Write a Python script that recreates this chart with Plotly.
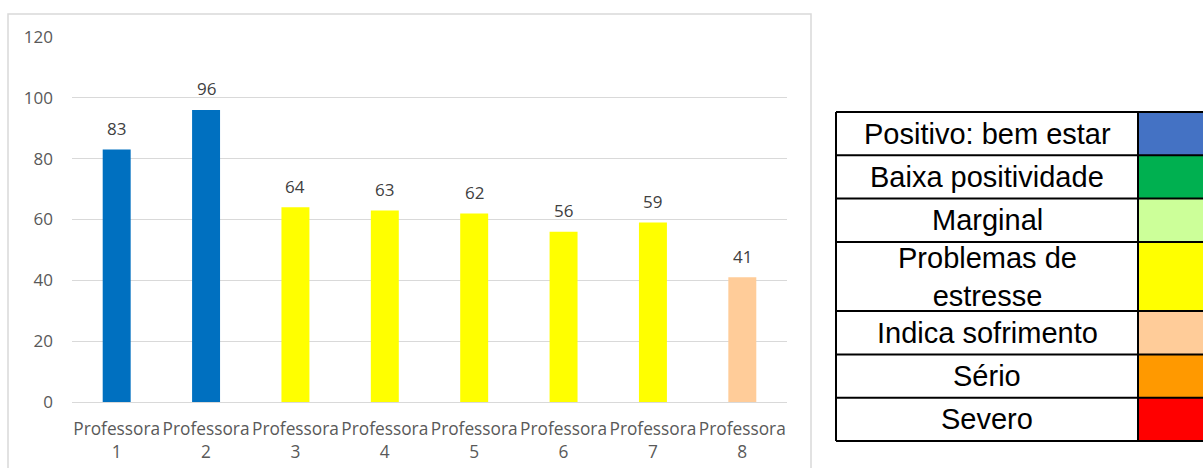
import plotly.graph_objects as go

# ---- data ----
categories = ["Professora<br>1", "Professora<br>2", "Professora<br>3", "Professora<br>4",
              "Professora<br>5", "Professora<br>6", "Professora<br>7", "Professora<br>8"]
values = [83, 96, 64, 63, 62, 56, 59, 41]
bar_colors = ["#0070C0", "#0070C0", "#FFFF00", "#FFFF00", "#FFFF00", "#FFFF00", "#FFFF00", "#FFCC99"]
y_ticks = [0, 20, 40, 60, 80, 100, 120]

legend_labels = ["Positivo: bem estar", "Baixa positividade", "Marginal",
                 "Problemas de<br>estresse", "Indica sofrimento", "Sério", "Severo"]
legend_colors = ["#4472C4", "#00B050", "#CCFF99", "#FFFF00", "#FFCC99", "#FF9900", "#FF0000"]

W, H = 1203, 468


def px(x):
    return x / W


def py(y):
    return 1 - y / H


fig = go.Figure()
fig.add_trace(go.Bar(
    x=categories, y=values, marker=dict(color=bar_colors, line=dict(width=0)),
    hoverinfo="skip", showlegend=False,
))

annotations = []
for c, v in zip(categories, values):
    annotations.append(dict(
        x=c, y=v, xref="x", yref="y", text=str(v), showarrow=False,
        yanchor="middle", yshift=21,
        font=dict(family="Open Sans", size=17, color="#404040"),
    ))

shapes = []
# chart outer border
shapes.append(dict(type="rect", xref="paper", yref="paper",
                   x0=px(8), x1=px(811), y0=py(14), y1=py(490),
                   line=dict(color="#D9D9D9", width=1.5), fillcolor="rgba(0,0,0,0)", layer="below"))

# legend table
left, mid, right = 836, 1138, 1215
top = 112
single, double = 43.3, 69.2
ys = [top]
for lab in legend_labels:
    n = lab.count("<br>") + 1
    ys.append(ys[-1] + (single if n == 1 else double))

for i, (lab, col) in enumerate(zip(legend_labels, legend_colors)):
    y0, y1 = ys[i], ys[i + 1]
    shapes.append(dict(type="rect", xref="paper", yref="paper",
                       x0=px(mid), x1=px(right), y0=py(y0), y1=py(y1),
                       line=dict(width=0), fillcolor=col))
    annotations.append(dict(
        x=px((left + mid) / 2), y=py((y0 + y1) / 2), xref="paper", yref="paper",
        text=lab, showarrow=False, xanchor="center", yanchor="middle",
        font=dict(family="Liberation Sans", size=29, color="black"),
    ))

for y in ys:
    shapes.append(dict(type="line", xref="paper", yref="paper",
                       x0=px(left), x1=px(right), y0=py(y), y1=py(y),
                       line=dict(color="black", width=2)))
for x in (left, mid):
    shapes.append(dict(type="line", xref="paper", yref="paper",
                       x0=px(x), x1=px(x), y0=py(ys[0]), y1=py(ys[-1]),
                       line=dict(color="black", width=2)))

fig.update_layout(
    width=W, height=H,
    margin=dict(l=0, r=0, t=0, b=0, autoexpand=False),
    paper_bgcolor="white", plot_bgcolor="white",
    bargap=0.687,
    shapes=shapes, annotations=annotations,
    xaxis=dict(domain=[px(72), px(787)], showgrid=False, showline=False, zeroline=False,
               tickangle=0, ticks="", automargin=False, ticklabelstandoff=15,
               tickfont=dict(family="Open Sans", size=17.3, color="#595959")),
    yaxis=dict(domain=[py(402), py(37)], range=[0, 120], tickvals=y_ticks,
               showgrid=True, gridcolor="#D9D9D9", gridwidth=1,
               zeroline=True, zerolinecolor="#D9D9D9", zerolinewidth=1,
               showline=False, ticks="", ticklabelstandoff=18, automargin=False,
               tickfont=dict(family="Open Sans", size=17, color="#595959")),
)

fig.write_html("out.html")
